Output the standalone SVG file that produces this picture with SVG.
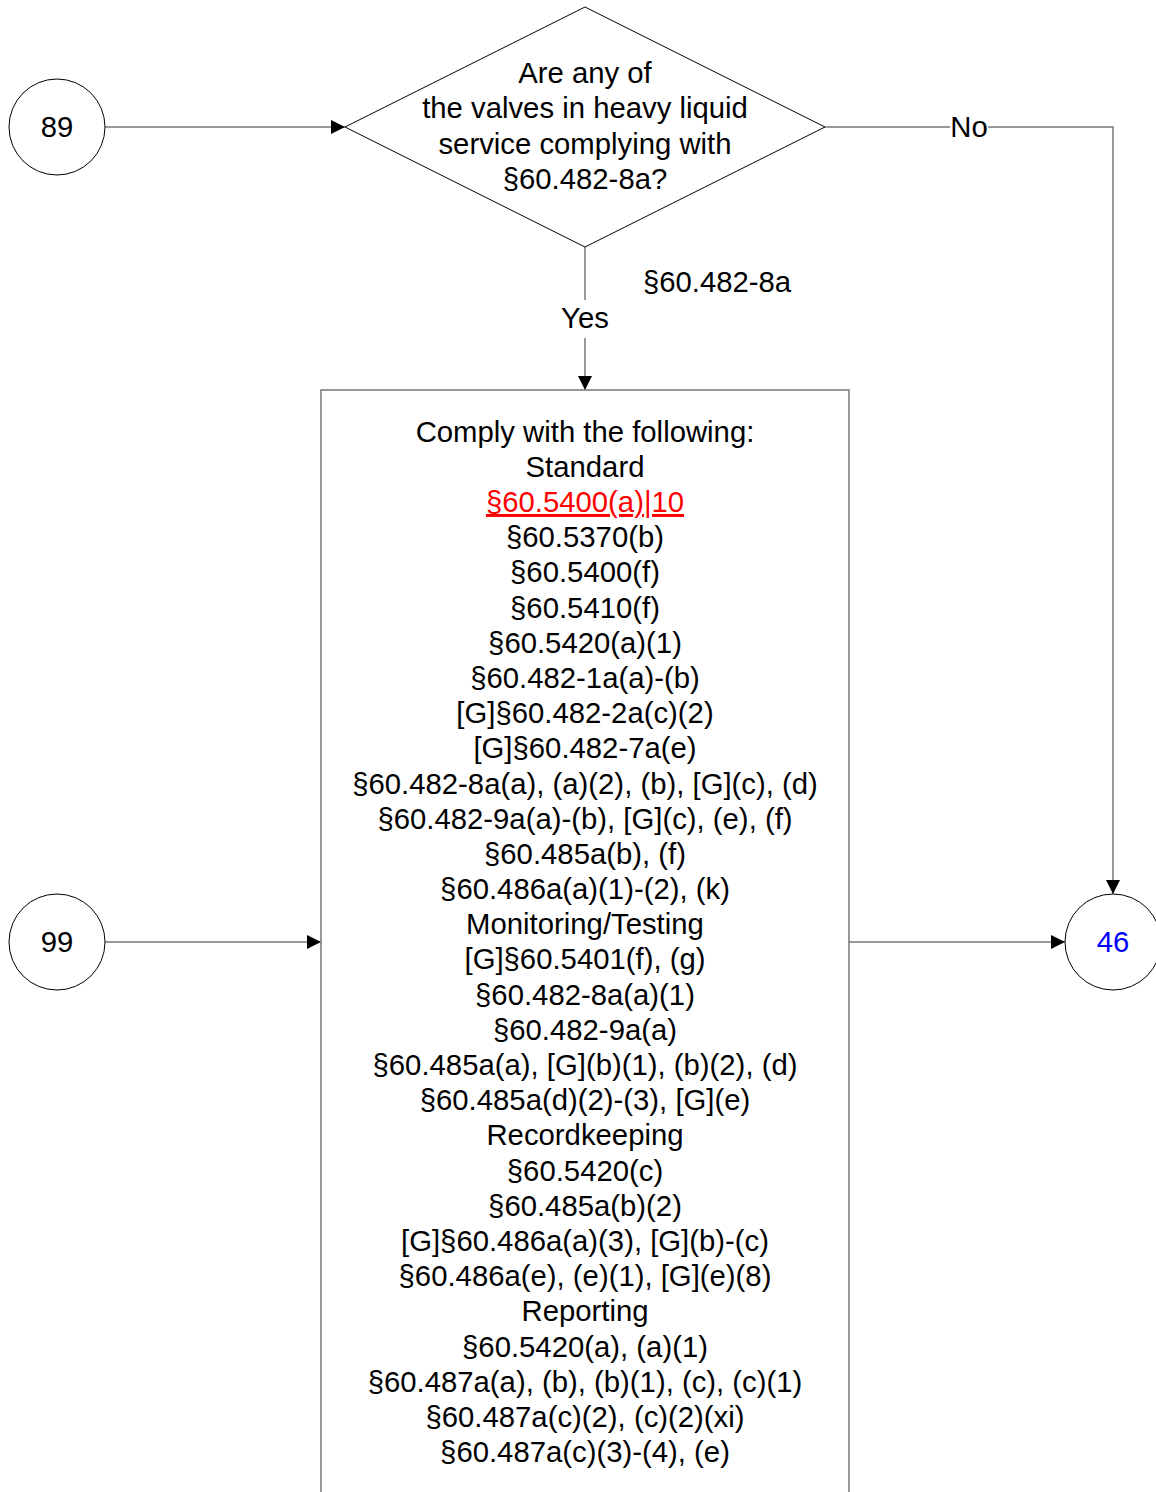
<svg xmlns="http://www.w3.org/2000/svg" width="1156" height="1492" viewBox="0 0 1156 1492">
<style>
text{font-family:"Liberation Sans",Arial,sans-serif;font-size:29.3px;fill:#000;text-anchor:middle}
.shape{fill:#fff;stroke:#000;stroke-width:1}
.box{fill:#fff;stroke:#777;stroke-width:1.5}
.conn{fill:none;stroke:#777;stroke-width:1.5}
.lbl{fill:#fff}
</style>
<defs>
<marker id="arr" viewBox="0 0 10 10" refX="10" refY="5" markerWidth="14" markerHeight="14" markerUnits="userSpaceOnUse" orient="auto">
<path d="M0,0 L10,5 L0,10 Z" fill="#000"/>
</marker>
</defs>
<g id="connectors">
<line class="conn" x1="105" y1="127" x2="345" y2="127" marker-end="url(#arr)"/>
<polyline class="conn" points="825,127 1113,127 1113,894" marker-end="url(#arr)"/>
<line class="conn" x1="585" y1="247" x2="585" y2="390" marker-end="url(#arr)"/>
<line class="conn" x1="105" y1="942" x2="321" y2="942" marker-end="url(#arr)"/>
<line class="conn" x1="849" y1="942" x2="1065" y2="942" marker-end="url(#arr)"/>
<rect class="lbl" x="950" y="112" width="38" height="30"/>
<text x="969" y="137">No</text>
<rect class="lbl" x="558" y="300" width="54" height="38"/>
<text x="585" y="328">Yes</text>
<text x="717" y="292">§60.482-8a</text>
</g>
<g id="node-89">
<circle class="shape" cx="57" cy="127" r="48"/>
<text x="57" y="137">89</text>
</g>
<g id="node-decision">
<polygon class="shape" points="345,127 585,7 825,127 585,247"/>
<text x="585" y="83">Are any of</text>
<text x="585" y="118">the valves in heavy liquid</text>
<text x="585" y="154">service complying with</text>
<text x="585" y="189">§60.482-8a?</text>
</g>
<g id="node-99">
<circle class="shape" cx="57" cy="942" r="48"/>
<text x="57" y="952">99</text>
</g>
<g id="node-46">
<circle class="shape" cx="1113" cy="942" r="48"/>
<text x="1113" y="952" style="fill:#0000ff">46</text>
</g>
<g id="node-comply">
<rect class="box" x="321" y="390" width="528" height="1110"/>
<text x="585" y="442">Comply with the following:</text>
<text x="585" y="477">Standard</text>
<text x="585" y="512" style="fill:#ff0000;text-decoration:underline">§60.5400(a)|10</text>
<text x="585" y="547">§60.5370(b)</text>
<text x="585" y="582">§60.5400(f)</text>
<text x="585" y="618">§60.5410(f)</text>
<text x="585" y="653">§60.5420(a)(1)</text>
<text x="585" y="688">§60.482-1a(a)-(b)</text>
<text x="585" y="723">[G]§60.482-2a(c)(2)</text>
<text x="585" y="758">[G]§60.482-7a(e)</text>
<text x="585" y="794">§60.482-8a(a), (a)(2), (b), [G](c), (d)</text>
<text x="585" y="829">§60.482-9a(a)-(b), [G](c), (e), (f)</text>
<text x="585" y="864">§60.485a(b), (f)</text>
<text x="585" y="899">§60.486a(a)(1)-(2), (k)</text>
<text x="585" y="934">Monitoring/Testing</text>
<text x="585" y="969">[G]§60.5401(f), (g)</text>
<text x="585" y="1005">§60.482-8a(a)(1)</text>
<text x="585" y="1040">§60.482-9a(a)</text>
<text x="585" y="1075">§60.485a(a), [G](b)(1), (b)(2), (d)</text>
<text x="585" y="1110">§60.485a(d)(2)-(3), [G](e)</text>
<text x="585" y="1145">Recordkeeping</text>
<text x="585" y="1181">§60.5420(c)</text>
<text x="585" y="1216">§60.485a(b)(2)</text>
<text x="585" y="1251">[G]§60.486a(a)(3), [G](b)-(c)</text>
<text x="585" y="1286">§60.486a(e), (e)(1), [G](e)(8)</text>
<text x="585" y="1321">Reporting</text>
<text x="585" y="1357">§60.5420(a), (a)(1)</text>
<text x="585" y="1392">§60.487a(a), (b), (b)(1), (c), (c)(1)</text>
<text x="585" y="1427">§60.487a(c)(2), (c)(2)(xi)</text>
<text x="585" y="1462">§60.487a(c)(3)-(4), (e)</text>
</g>
</svg>
